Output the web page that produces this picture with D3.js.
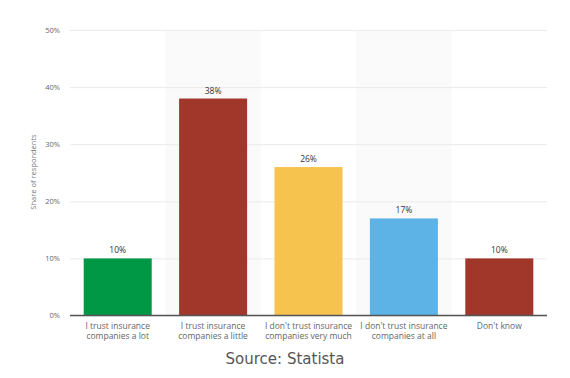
<!DOCTYPE html>
<html><head><meta charset="utf-8">
<script src="https://cdn.jsdelivr.net/npm/d3@7"></script>
<style>html,body{margin:0;padding:0;background:#fff;}</style>
</head><body>
<svg id="c" width="570" height="378"></svg>
<script>
const categories = [
  ["I trust insurance", "companies a lot"],
  ["I trust insurance", "companies a little"],
  ["I don't trust insurance", "companies very much"],
  ["I don't trust insurance", "companies at all"],
  ["Don't know"]
];
const values = [10, 38, 26, 17, 10];
const colors = ["#009845", "#a1372a", "#f6c34f", "#5db3e6", "#a1372a"];
const yTicks = [0, 10, 20, 30, 40, 50];

(function () {
const svg = d3.select("#c");
const mL = 70, mR = 547, mT = 30, mB = 315.5;
const ids = categories.map((d, i) => i);
const xBand = d3.scaleBand().domain(ids).range([mL, mR]).padding(0);
const x = d3.scaleBand().domain(ids).range([mL, mR]).paddingInner(0.287).paddingOuter(0.1435);
const y = d3.scaleLinear().domain([0, 50]).range([mB, mT]);

svg.selectAll("rect.band").data(ids.filter(i => i % 2 === 1)).enter().append("rect")
  .attr("x", i => xBand(i)).attr("y", mT).attr("width", xBand.bandwidth()).attr("height", mB - mT)
  .attr("fill", "#fafafa");

const yAxis = d3.axisLeft(y).tickValues(yTicks).tickFormat(d => d + "%").tickSize(-(mR - mL)).tickPadding(10);
const ga = svg.append("g").attr("transform", `translate(${mL},0)`).call(yAxis);
ga.select(".domain").remove();
ga.selectAll(".tick line").attr("stroke", "#ebebeb").attr("stroke-width", 1);
ga.selectAll(".tick text").attr("fill", "#666").attr("font-family", "'Open Sans', sans-serif").attr("font-size", 7.5);

svg.selectAll("rect.bar").data(values).enter().append("rect")
  .attr("x", (d, i) => x(i)).attr("y", d => y(d)).attr("width", x.bandwidth()).attr("height", d => y(0) - y(d))
  .attr("fill", (d, i) => colors[i]);

svg.append("line").attr("x1", mL).attr("x2", mR).attr("y1", y(0)).attr("y2", y(0))
  .attr("stroke", "#555").attr("stroke-width", 1.5);

svg.selectAll("text.val").data(values).enter().append("text")
  .attr("x", (d, i) => x(i) + x.bandwidth() / 2).attr("y", d => y(d) - 5)
  .attr("text-anchor", "middle").attr("fill", "#333").attr("font-family", "'Open Sans', sans-serif")
  .attr("font-size", 8.5).attr("font-weight", 500).text(d => d + "%");

const xl = svg.selectAll("text.xl").data(categories).enter().append("text")
  .attr("text-anchor", "middle").attr("fill", "#666").attr("font-family", "'Open Sans', sans-serif").attr("font-size", 8.5);
xl.each(function(d, i) {
  const t = d3.select(this);
  d.forEach((line, j) => {
    t.append("tspan").attr("x", x(i) + x.bandwidth() / 2).attr("y", 329 + j * 9.5).text(line);
  });
});

svg.append("text").attr("transform", `translate(36,172) rotate(-90)`).attr("text-anchor", "middle")
  .attr("fill", "#777").attr("font-family", "'Open Sans', sans-serif").attr("font-size", 7.5).text("Share of respondents");

svg.append("text").attr("x", 285).attr("y", 364).attr("text-anchor", "middle").attr("fill", "#555")
  .attr("font-family", "'DejaVu Sans', sans-serif").attr("font-size", 15).text("Source: Statista");
})();
</script>
</body></html>
